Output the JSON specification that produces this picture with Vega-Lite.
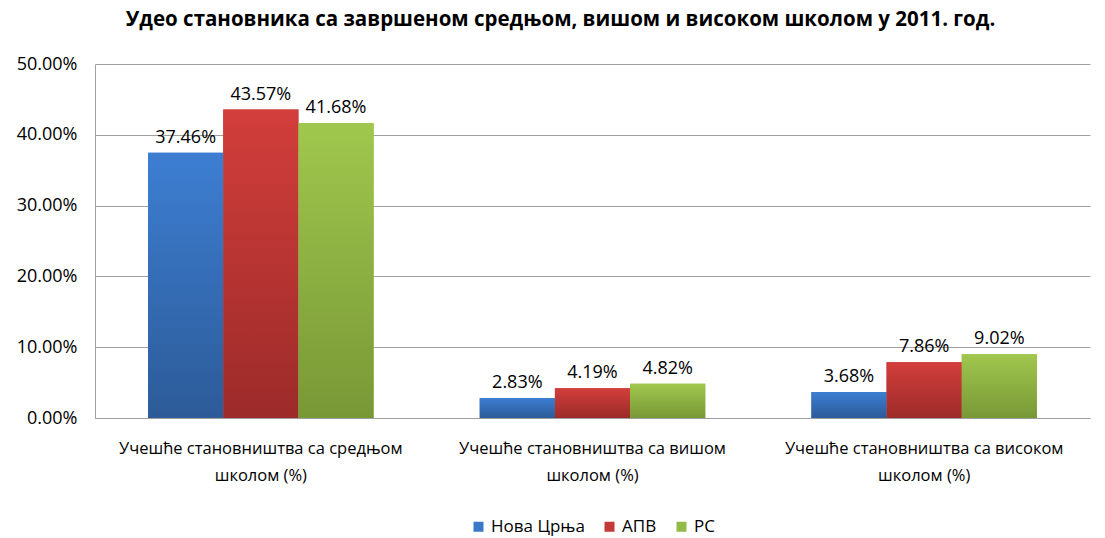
{
  "$schema": "https://vega.github.io/schema/vega-lite/v6.json",
  "width": 995,
  "height": 354,
  "autosize": {"type": "none"},
  "padding": {"left": 95, "top": 64, "right": 15, "bottom": 120},
  "background": "white",
  "title": {
    "text": "Удео становника са завршеном средњом, вишом и високом школом у 2011. год.",
    "font": "Open Sans",
    "fontSize": 20.5,
    "fontWeight": "bold",
    "color": "#000000",
    "anchor": "middle",
    "dx": -32,
    "offset": 25
  },
  "data": {
    "values": [
      {"category": "Учешће становништва са средњом школом (%)", "series": "Нова Црња", "value": 0.3746},
      {"category": "Учешће становништва са средњом школом (%)", "series": "АПВ", "value": 0.4357},
      {"category": "Учешће становништва са средњом школом (%)", "series": "РС", "value": 0.4168},
      {"category": "Учешће становништва са вишом школом (%)", "series": "Нова Црња", "value": 0.0283},
      {"category": "Учешће становништва са вишом школом (%)", "series": "АПВ", "value": 0.0419},
      {"category": "Учешће становништва са вишом школом (%)", "series": "РС", "value": 0.0482},
      {"category": "Учешће становништва са високом школом (%)", "series": "Нова Црња", "value": 0.0368},
      {"category": "Учешће становништва са високом школом (%)", "series": "АПВ", "value": 0.0786},
      {"category": "Учешће становништва са високом школом (%)", "series": "РС", "value": 0.0902}
    ]
  },
  "encoding": {
    "x": {
      "field": "category",
      "type": "nominal",
      "sort": null,
      "scale": {"paddingInner": 0.32, "paddingOuter": 0.16},
      "axis": {
        "title": null,
        "labelAngle": 0,
        "labelFont": "Open Sans",
        "labelFontSize": 16.5,
        "labelColor": "#000000",
        "labelPadding": 22,
        "labelLineHeight": 27,
        "labelLimit": 500,
        "labelExpr": "[replace(datum.label, ' школом (%)', ''), 'школом (%)']",
        "ticks": false,
        "domainColor": "#a0a0a0",
        "labelBaseline": "top"
      }
    },
    "xOffset": {"field": "series", "type": "nominal", "sort": ["Нова Црња", "АПВ", "РС"], "scale": {"domain": ["Нова Црња", "АПВ", "РС"]}},
    "y": {
      "field": "value",
      "type": "quantitative",
      "scale": {"domain": [0, 0.5]},
      "axis": {
        "title": null,
        "format": ".2%",
        "values": [0, 0.1, 0.2, 0.3, 0.4, 0.5],
        "labelFont": "Open Sans",
        "labelFontSize": 18,
        "labelColor": "#000000",
        "labelPadding": 18,
        "ticks": false,
        "domainColor": "#a0a0a0",
        "gridColor": "#a0a0a0",
        "grid": true
      }
    }
  },
  "layer": [
    {
      "mark": {"type": "bar"},
      "encoding": {
        "color": {
          "field": "series",
          "type": "nominal",
          "scale": {
            "domain": ["Нова Црња", "АПВ", "РС"],
            "range": ["#3A78C8", "#C33B38", "#93BA46"]
          },
          "legend": {
            "title": null,
            "orient": "bottom",
            "direction": "horizontal",
            "symbolType": "square",
            "symbolSize": 100,
            "symbolStrokeWidth": 0,
            "labelFont": "Open Sans",
            "labelFontSize": 17,
            "labelColor": "#000000",
            "columnPadding": 16,
            "offset": 34
          }
        }
      }
    },
    {
      "transform": [{"filter": "datum.series === 'Нова Црња'"}],
      "mark": {"type": "bar", "color": {"gradient": "linear", "x1": 0, "y1": 0, "x2": 0, "y2": 1, "stops": [{"offset": 0, "color": "#3D7ED2"}, {"offset": 1, "color": "#2C5B98"}]}},
      "encoding": {}
    },
    {
      "transform": [{"filter": "datum.series === 'АПВ'"}],
      "mark": {"type": "bar", "color": {"gradient": "linear", "x1": 0, "y1": 0, "x2": 0, "y2": 1, "stops": [{"offset": 0, "color": "#D23E3B"}, {"offset": 1, "color": "#9C2B29"}]}},
      "encoding": {}
    },
    {
      "transform": [{"filter": "datum.series === 'РС'"}],
      "mark": {"type": "bar", "color": {"gradient": "linear", "x1": 0, "y1": 0, "x2": 0, "y2": 1, "stops": [{"offset": 0, "color": "#A0C74D"}, {"offset": 1, "color": "#789836"}]}},
      "encoding": {}
    },
    {
      "mark": {"type": "text", "baseline": "bottom", "dy": -6, "font": "Open Sans", "fontSize": 18, "color": "#000000"},
      "encoding": {
        "text": {"field": "value", "type": "quantitative", "format": ".2%"}
      }
    }
  ],
  "config": {
    "view": {"stroke": null},
    "legend": {"layout": {"bottom": {"anchor": "middle"}}}
  }
}
